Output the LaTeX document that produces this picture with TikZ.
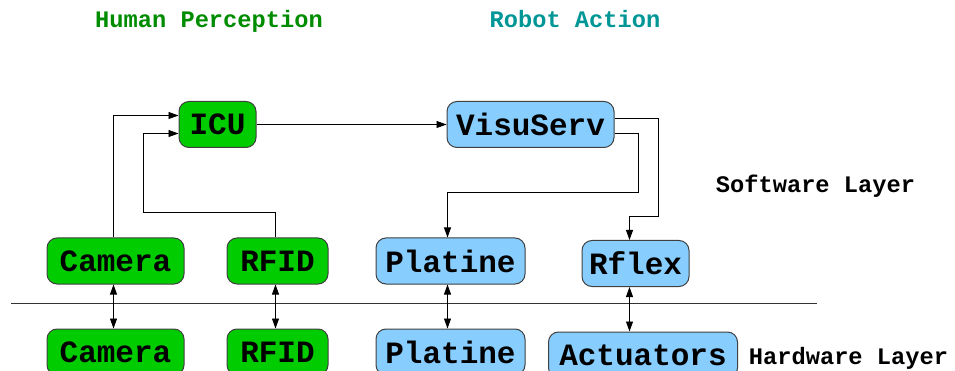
\documentclass[tikz,border=0pt]{standalone}
\usepackage{fontspec}
\setmonofont{Liberation Mono}
\usepackage{tikz}
\usetikzlibrary{arrows.meta}
\definecolor{percgreen}{RGB}{0,204,0}
\definecolor{actblue}{RGB}{135,206,255}
\definecolor{titlegreen}{RGB}{0,140,0}
\definecolor{titleteal}{RGB}{0,150,150}
\tikzstyle{module} = [draw=black!75,line width=1pt,rounded corners=10pt,minimum height=46pt,inner sep=0pt,font=\ttfamily\bfseries\fontsize{31}{31}\selectfont]
\tikzstyle{human} = [module,fill=percgreen]
\tikzstyle{robot} = [module,fill=actblue]
\tikzstyle{link} = [line width=0.8pt,-{Triangle[length=10pt,width=7pt]}]
\tikzstyle{twoway} = [line width=0.8pt,{Triangle[length=10pt,width=7pt]}-{Triangle[length=10pt,width=7pt]}]
\tikzstyle{layer} = [anchor=base,font=\ttfamily\bfseries\fontsize{23.7}{24}\selectfont]

\begin{document}
\begin{tikzpicture}[x=1pt,y=-1pt]
	\useasboundingbox (0,0) rectangle (955,371);
	
	% Titles
	\node[layer,text=titlegreen] (hp) at (209,28) {Human Perception};
	\node[layer,text=titleteal] (ra) at (575,28) {Robot Action};
	\node[layer] (sw) at (815.5,193) {Software Layer};
	\node[layer] (hw) at (848.5,364) {Hardware Layer};
	
	% Software layer
	\node[human,minimum width=77pt] (icu) at (217.5,124.5) {ICU};
	\node[robot,minimum width=167pt] (visu) at (530.5,124.5) {VisuServ};
	\node[human,minimum width=137pt] (cam) at (115.5,261) {Camera};
	\node[human,minimum width=101pt] (rfid) at (277.5,261) {RFID};
	\node[robot,minimum width=149pt] (plat) at (450.5,261) {Platine};
	\node[robot,minimum width=107pt] (rflex) at (635.5,263.5) {Rflex};
	
	% Hardware layer
	\node[human,minimum width=137pt] (camhw) at (115.5,352) {Camera};
	\node[human,minimum width=101pt] (rfidhw) at (277.5,352) {RFID};
	\node[robot,minimum width=149pt] (plathw) at (450.5,352) {Platine};
	\node[robot,minimum width=189pt] (act) at (643,355) {Actuators};
	
	% Separator
	\coordinate (sepl) at (11,303);
	\coordinate (sepr) at (817,303);
	\draw[line width=0.8pt,black!80] (sepl) -- (sepr);
	
	% Software links
	\draw[link] ([xshift=-2pt]cam.north) |- ([yshift=9pt]icu.west);
	\draw[link] ([xshift=-2pt]rfid.north) |- (143,212) |- ([yshift=-9pt]icu.west);
	\draw[link] (icu.east) -- (visu.west);
	\draw[link] ([yshift=-9pt]visu.east) -| (638,192) -| ([xshift=-3pt]plat.north);
	\draw[link] ([yshift=6pt]visu.east) -| (658,216) -| ([xshift=-6pt]rflex.north);
	
	% Hardware links
	\draw[twoway] ([xshift=-2pt]cam.south) -- ([xshift=-2pt]camhw.north);
	\draw[twoway] ([xshift=-2pt]rfid.south) -- ([xshift=-2pt]rfidhw.north);
	\draw[twoway] ([xshift=-3pt]plat.south) -- ([xshift=-3pt]plathw.north);
	\draw[twoway] ([xshift=-6pt]rflex.south) -- ([xshift=-6pt]rflex.south |- act.north);
	
\end{tikzpicture}
\end{document}
